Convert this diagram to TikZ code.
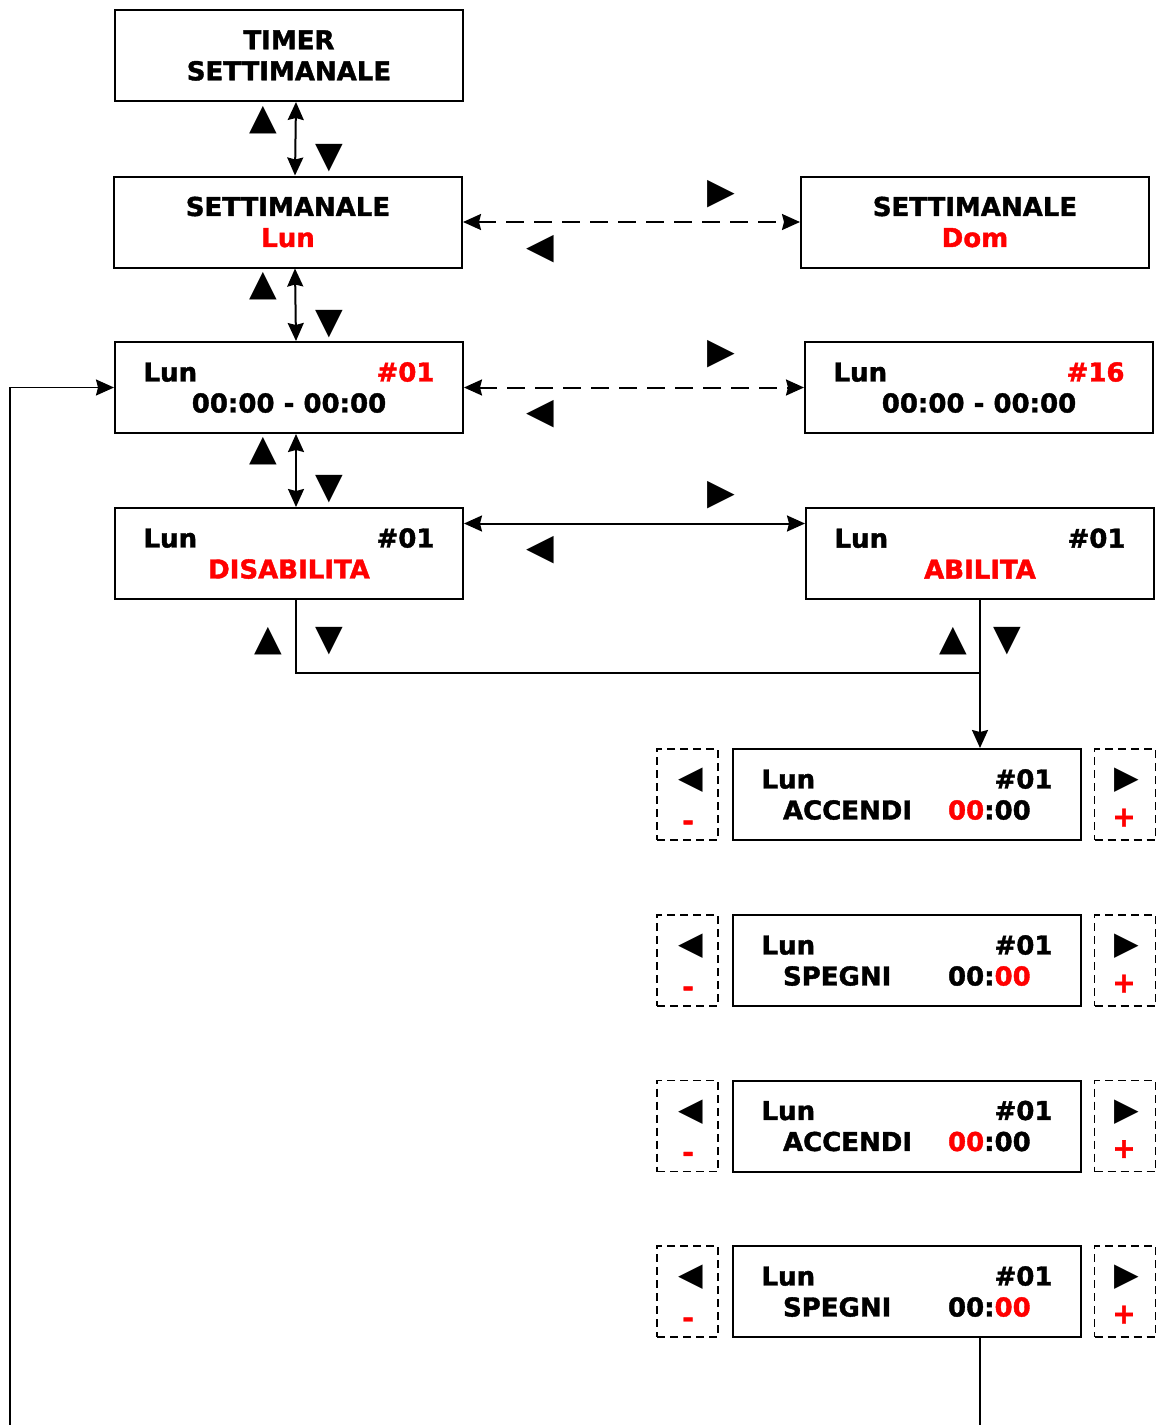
\documentclass[tikz,border=0pt]{standalone}
\usepackage{fontspec}
\setmainfont{DejaVu Sans}[BoldFeatures={FakeBold=1.5}]
\usetikzlibrary{arrows.meta}
\newcommand{\lcdtop}[2]{\makebox[145.5pt]{#1\hfill#2}}

\begin{document}
\begin{tikzpicture}[x=0.5pt,y=-0.5pt,>={Stealth[length=9pt,width=8pt,inset=1pt]},
  screen/.style={draw,line width=1pt,minimum width=174pt,minimum height=45.5pt,
    inner sep=0pt,align=center,font=\fontsize{13}{15.5}\selectfont\bfseries},
  keybox/.style={draw,dash pattern=on 4pt off 2.5pt,line width=0.8pt,
    minimum width=30.5pt,minimum height=45.5pt,inner sep=0pt},
  key/.style={inner sep=0pt,font=\fontsize{18}{18}\selectfont},
  sign/.style={inner sep=0pt,text=red,font=\fontsize{14}{14}\selectfont\bfseries},
  link/.style={line width=1pt},
  dlink/.style={link,dash pattern=on 9pt off 5pt},
  wire/.style={line width=0.8pt}]
  \useasboundingbox (0,0) rectangle (1165,1425);

  \node[screen] (A) at (289,55.5) {TIMER\\SETTIMANALE};
  \node[screen] (B) at (288,222) {SETTIMANALE\\\textcolor{red}{Lun}};
  \node[screen] (C) at (975,222) {SETTIMANALE\\\textcolor{red}{Dom}};
  \node[screen] (D) at (289,387.5) {\lcdtop{Lun}{\textcolor{red}{\#01}}\\00:00 - 00:00};
  \node[screen] (E) at (979,387.5) {\lcdtop{Lun}{\textcolor{red}{\#16}}\\00:00 - 00:00};
  \node[screen] (F) at (289,553.5) {\lcdtop{Lun}{\#01}\\\textcolor{red}{DISABILITA}};
  \node[screen] (G) at (980,553.5) {\lcdtop{Lun}{\#01}\\\textcolor{red}{ABILITA}};

  % edit screens with -/+ keys
  \foreach \y/\act/\hh/\mm [count=\i] in {794.5/ACCENDI/red/black,960.5/SPEGNI/black/red,
      1126/ACCENDI/red/black,1291.5/SPEGNI/black/red}{
    \node[screen] (e\i) at (907,\y) {\lcdtop{Lun}{\#01}\\
      \makebox[124pt][l]{\makebox[82.5pt][l]{\act}\textcolor{\hh}{00}:\textcolor{\mm}{00}}};
    \node[keybox] (minus\i) at (687.5,\y) {};
    \node[keybox] (plus\i) at (1125,\y) {};
    \node[key,font=\fontsize{16}{16}\selectfont] (lt\i) at (691,\y-14) {◀};
    \node[sign] (ms\i) at (688,\y+31) {-};
    \node[key,font=\fontsize{16}{16}\selectfont] (rt\i) at (1127,\y-14) {▶};
    \node[sign] (ps\i) at (1124,\y+23) {+};
  }

  \draw[link,<->] ([xshift=3.5pt]A.south) -- ([xshift=3.5pt]B.north);
  \draw[link,<->] ([xshift=3.5pt]B.south) -- ([xshift=3.5pt]D.north);
  \draw[link,<->] ([xshift=3.5pt]D.south) -- ([xshift=3.5pt]F.north);
  \draw[dlink,<->] (B.east) -- (C.west);
  \draw[dlink,<->] (D.east) -- (E.west);
  \draw[link,<->] ([yshift=15pt]F.east) -- ([yshift=15pt]G.west);

  \foreach \y [count=\i] in {120,286,451}{
    \node[key] (up\i) at (263,\y) {▲};
    \node[key] (dn\i) at (329,\y+38) {▼};
  }
  \foreach \y/\d [count=\i] in {194/55,354/60,495/55}{
    \node[key] (fw\i) at (721,\y) {▶};
    \node[key] (bk\i) at (540,\y+\d) {◀};
  }
  \node[key] (up4) at (268,641) {▲};
  \node[key] (dn4) at (329,641) {▼};
  \node[key] (up5) at (953,641) {▲};
  \node[key] (dn5) at (1007,641) {▼};

  \coordinate (join) at (980,673);
  \coordinate (loopL) at (10,1425);
  \coordinate (loopR) at (980,1425);
  \draw[wire] ([xshift=3.5pt]F.south) |- (join);
  \draw[link,->] (G.south) -- ([xshift=36.5pt]e1.north);
  \draw[wire] ([xshift=36.5pt]e4.south) -- (loopR);
  \draw[wire,->] (loopL) |- (D.west);
\end{tikzpicture}
\end{document}
